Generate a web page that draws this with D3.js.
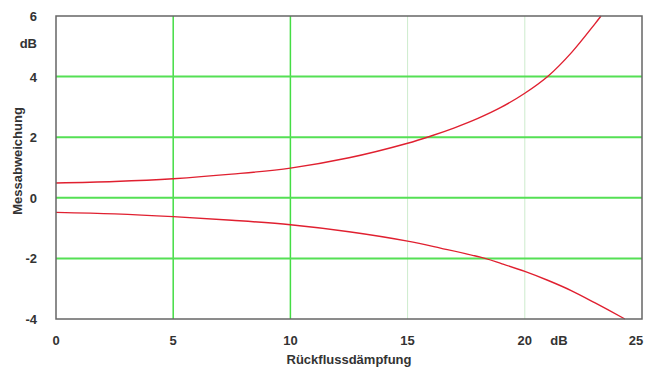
<!DOCTYPE html>
<html>
<head>
<meta charset="utf-8">
<script src="https://cdn.jsdelivr.net/npm/d3@7"></script>
<style>
  body { margin: 0; background: #fff; }
  text { font-family: "Liberation Sans", Arial, sans-serif; font-weight: bold; font-size: 13px; fill: #333; }
</style>
</head>
<body>
<svg id="chart" width="649" height="367"></svg>
<script>
// Werte
const xTicks = [0, 5, 10, 15, 20, 25]
const yTicks = [-4, -2, 0, 2, 4, 6]
const upperX = [0, 2.5, 5, 7.5, 10, 12.5, 15, 16, 17, 18, 19, 20, 21, 22, 23, 23.25]
const upperY = [0.49, 0.54, 0.63, 0.78, 0.98, 1.32, 1.8, 2.04, 2.31, 2.62, 2.99, 3.45, 4.02, 4.8, 5.75, 6.0]
const lowerX = [0, 2.5, 5, 7.5, 10, 12.5, 15, 16.4, 18.3, 19, 20, 21, 22, 23, 24.27]
const lowerY = [-0.48, -0.53, -0.62, -0.74, -0.89, -1.12, -1.43, -1.66, -2.0, -2.17, -2.43, -2.73, -3.07, -3.47, -4.0]

const svg = d3.select('#chart')
const margin = { left: 56, top: 16, right: 7, bottom: 48 }
const width = +svg.attr('width'), height = +svg.attr('height')

const x = d3.scaleLinear().domain([0, 25]).range([margin.left, width - margin.right])
const y = d3.scaleLinear().domain([-4, 6]).range([height - margin.bottom, margin.top])

// Gitter
svg.append('g')
    .selectAll('line')
    .data([5, 10, 15, 20])
    .join('line')
    .attr('x1', d => x(d)).attr('x2', d => x(d))
    .attr('y1', y(6)).attr('y2', y(-4))
    .attr('stroke', d => d <= 10 ? '#44dd44' : '#cdeccd')
    .attr('stroke-width', d => d <= 10 ? 1.5 : 1)

svg.append('g')
    .selectAll('line')
    .data([-2, 0, 2, 4])
    .join('line')
    .attr('x1', x(0)).attr('x2', x(25))
    .attr('y1', d => y(d)).attr('y2', d => y(d))
    .attr('stroke', '#55e055')
    .attr('stroke-width', 2)

// Kurven
const line = d3.line().x(d => x(d[0])).y(d => y(d[1])).curve(d3.curveCatmullRom.alpha(0.5))
const series = [d3.zip(upperX, upperY), d3.zip(lowerX, lowerY)]
svg.append('g')
    .selectAll('path')
    .data(series)
    .join('path')
    .attr('d', line)
    .attr('fill', 'none')
    .attr('stroke', '#e02030')
    .attr('stroke-width', 1.4)

// Rahmen
svg.append('rect')
    .attr('x', x(0)).attr('y', y(6))
    .attr('width', x(25) - x(0)).attr('height', y(-4) - y(6))
    .attr('fill', 'none')
    .attr('stroke', '#666')
    .attr('stroke-width', 1.5)

// Achsenbeschriftung
svg.append('g')
    .selectAll('text')
    .data(xTicks)
    .join('text')
    .attr('x', d => Math.min(x(d), 636))
    .attr('y', 345)
    .attr('text-anchor', 'middle')
    .text(d => d)

svg.append('g')
    .selectAll('text')
    .data(yTicks)
    .join('text')
    .attr('x', 37)
    .attr('y', d => y(d) + 5)
    .attr('text-anchor', 'end')
    .text(d => d)

svg.append('text').attr('x', 37).attr('y', 48).attr('text-anchor', 'end').text('dB')
svg.append('text').attr('x', 559).attr('y', 345).attr('text-anchor', 'middle').text('dB')
svg.append('text').attr('x', (x(0) + x(25)) / 2).attr('y', 364).attr('text-anchor', 'middle').text('Rückflussdämpfung')
svg.append('text')
    .attr('transform', 'translate(22,161) rotate(-90)')
    .attr('text-anchor', 'middle')
    .text('Messabweichung')
</script>
</body>
</html>
